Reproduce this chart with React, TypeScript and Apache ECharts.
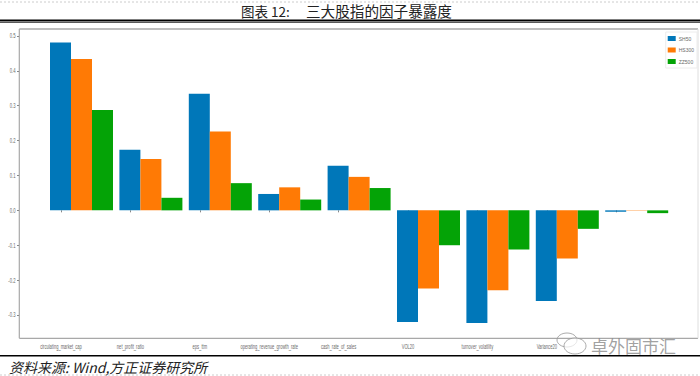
import React, { useEffect, useRef } from "react";
import * as echarts from "echarts";

const categories = ["circulating_market_cap", "net_profit_ratio", "eps_ttm", "operating_revenue_growth_rate", "cash_rate_of_sales", "VOL20", "turnover_volatility", "Variance20", ""];
const sh50 = [0.481, 0.174, 0.334, 0.047, 0.128, -0.32, -0.323, -0.26, -0.004];
const hs300 = [0.434, 0.147, 0.226, 0.066, 0.096, -0.224, -0.229, -0.138, -0.001];
const zz500 = [0.288, 0.036, 0.078, 0.031, 0.064, -0.1, -0.112, -0.053, -0.008];
const seriesNames = ["SH50", "HS300", "ZZ500"];
const colors = ["#0077b9", "#ff7a05", "#04a306"];
const yTicks = [0.5, 0.4, 0.3, 0.2, 0.1, 0, -0.1, -0.2, -0.3];

const TOP = 29, BOTTOM = 38, yMin = -0.366, yMax = 0.52;
const BAND_LEFT = 26.3, BAND_W = 624.6, BAR_SHIFT = 20.5;
const narrowFont = "7px 'Liberation Sans'";
const labelColor = "#6a6a6a";

export default function App() {
  const ref = useRef<HTMLDivElement>(null);
  useEffect(() => {
    const chart = echarts.init(ref.current!, undefined, { renderer: "svg" });
    chart.setOption({
      animation: false,
      backgroundColor: "#fff",
      grid: [
        { left: 19, right: 2, top: TOP, bottom: BOTTOM },
        { left: BAND_LEFT + BAR_SHIFT, width: BAND_W, top: TOP, bottom: BOTTOM },
        { left: BAND_LEFT, width: BAND_W, top: TOP, bottom: BOTTOM },
      ],
      xAxis: [
        { gridIndex: 0, type: "value", min: 0, max: 1, show: false },
        { gridIndex: 1, type: "category", data: categories, show: false },
        {
          gridIndex: 2, type: "category", data: categories,
          axisLine: { show: false },
          axisTick: { show: true, alignWithLabel: true, length: 2, lineStyle: { color: "#888" }, interval: 0 },
          axisLabel: { show: false },
          splitLine: { show: false },
        },
      ],
      yAxis: [
        {
          gridIndex: 0, type: "value", min: yMin, max: yMax,
          axisLine: { show: false },
          axisTick: { show: true, length: 2, lineStyle: { color: "#888" }, customValues: yTicks },
          axisLabel: { show: false },
          splitLine: { show: false },
        },
        { gridIndex: 1, type: "value", min: yMin, max: yMax, show: false, splitLine: { show: false } },
        { gridIndex: 2, type: "value", min: yMin, max: yMax, show: false, splitLine: { show: false } },
      ],
      legend: {
        orient: "vertical", right: 3, top: 32, itemWidth: 8, itemHeight: 5, itemGap: 6.5, padding: [4, 3, 4, 2],
        backgroundColor: "#fff", borderColor: "#ececec", borderWidth: 1, icon: "rect",
        textStyle: { fontFamily: "Liberation Sans", color: labelColor, fontSize: 5, padding: [0, 0, 0, -2] },
        data: seriesNames,
      },
      series: [sh50, hs300, zz500].map((d, i) => ({
        name: seriesNames[i], type: "bar", data: d, xAxisIndex: 1, yAxisIndex: 1,
        barWidth: 21, barGap: 0, itemStyle: { color: colors[i] },
      })),
    });

    const xLabels = categories.map((c, i) => ({
      type: "text", x: chart.convertToPixel({ xAxisIndex: 2 }, i), y: 346.7, scaleX: 0.58,
      style: { text: c, font: narrowFont, fill: labelColor, align: "center", verticalAlign: "middle" },
    }));
    const yLabels = yTicks.map((v) => ({
      type: "text", x: 15.5, y: chart.convertToPixel({ yAxisIndex: 0 }, v), scaleX: 0.6,
      style: { text: v.toFixed(1), font: narrowFont, fill: labelColor, align: "right", verticalAlign: "middle" },
    }));

    chart.setOption({
      graphic: [
        { type: "line", shape: { x1: 19.3, y1: 29, x2: 698, y2: 29 }, style: { stroke: "#a8a8a8", lineWidth: 1.7 } },
        { type: "line", shape: { x1: 19.3, y1: 29, x2: 19.3, y2: 338.3 }, style: { stroke: "#a8a8a8", lineWidth: 1.2 } },
        { type: "line", shape: { x1: 19.3, y1: 338.3, x2: 698, y2: 338.3 }, style: { stroke: "#a8a8a8", lineWidth: 1.2 } },
        { type: "line", shape: { x1: 698, y1: 29, x2: 698, y2: 338.3 }, style: { stroke: "#dedede", lineWidth: 1 } },
        { type: "rect", shape: { x: 0, y: 19.5, width: 700, height: 2 }, style: { fill: "#000" } },
        { type: "rect", shape: { x: 0, y: 22, width: 700, height: 0.7 }, style: { fill: "#222" } },
        { type: "rect", shape: { x: 0, y: 355, width: 700, height: 1.6 }, style: { fill: "#000" } },
        { type: "line", shape: { x1: 0, y1: 2, x2: 700, y2: 2 }, style: { stroke: "#ccc", lineDash: [2, 2], lineWidth: 1 } },
        { type: "line", shape: { x1: 0, y1: 375, x2: 700, y2: 375 }, style: { stroke: "#ccc", lineDash: [2, 2], lineWidth: 1 } },
        { type: "text", x: 241, y: 10.5, style: { text: "图表 12:", font: "13.5px 'Noto Sans CJK SC'", fill: "#222", verticalAlign: "middle" } },
        { type: "text", x: 306, y: 10.5, style: { text: "三大股指的因子暴露度", font: "14.6px 'Noto Sans CJK SC'", fill: "#222", verticalAlign: "middle" } },
        { type: "text", x: 9, y: 367, style: { text: "资料来源: Wind,方正证券研究所", font: "italic 14px 'Noto Sans CJK SC'", fill: "#222", verticalAlign: "middle" } },
        ...xLabels,
        ...yLabels,
        { type: "text", x: 591, y: 345, style: { text: "卓外固市汇", font: "17px 'Noto Sans CJK SC'", fill: "rgba(120,120,120,0.7)", verticalAlign: "middle" } },
        { type: "ellipse", shape: { cx: 567, cy: 340, rx: 10, ry: 7 }, style: { fill: "none", stroke: "rgba(150,150,150,0.8)", lineWidth: 1 } },
        { type: "ellipse", shape: { cx: 575, cy: 346, rx: 11, ry: 8 }, style: { fill: "rgba(255,255,255,0.7)", stroke: "rgba(150,150,150,0.8)", lineWidth: 1 } },
      ],
    });
    return () => chart.dispose();
  }, []);
  return <div ref={ref} style={{ position: "fixed", left: 0, top: 0, width: 700, height: 376 }} />;
}
